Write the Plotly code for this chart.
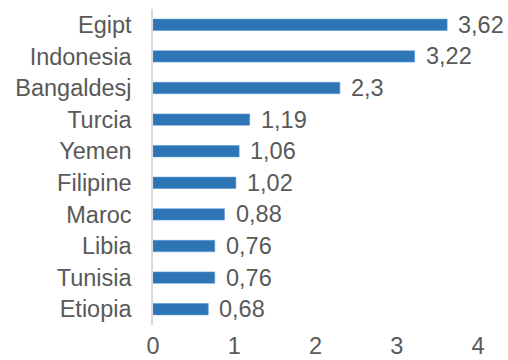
import plotly.graph_objects as go

countries = ["Egipt", "Indonesia", "Bangaldesj", "Turcia", "Yemen",
             "Filipine", "Maroc", "Libia", "Tunisia", "Etiopia"]
values = [3.62, 3.22, 2.3, 1.19, 1.06, 1.02, 0.88, 0.76, 0.76, 0.68]
x_ticks = [0, 1, 2, 3, 4]

labels = [str(v).replace(".", ",") for v in values]

FONT = "Liberation Sans, Arial, sans-serif"
TXT = "#595959"
FS = 23.5

fig = go.Figure(go.Bar(
    x=values, y=countries, orientation="h",
    marker=dict(color="#2E75B6", line=dict(color="#5B9BD5", width=0.6)),
    width=0.36, hoverinfo="skip",
))

for v, c, lab in zip(values, countries, labels):
    fig.add_annotation(x=v, y=c, text=lab, showarrow=False, xanchor="left",
                       xshift=9, font=dict(family=FONT, size=FS, color=TXT))

fig.update_layout(
    width=508, height=360,
    margin=dict(l=153, r=30, t=9, b=35),
    paper_bgcolor="white", plot_bgcolor="white",
    showlegend=False,
    font=dict(family=FONT, size=FS, color=TXT),
    xaxis=dict(range=[0, 4], tickvals=x_ticks, ticktext=[str(t) for t in x_ticks],
               showgrid=False, zeroline=False, showline=False, automargin=False,
               ticks="", ticklabelstandoff=4,
               tickfont=dict(family=FONT, size=FS, color=TXT)),
    yaxis=dict(categoryorder="array", categoryarray=countries, autorange="reversed",
               showgrid=False, zeroline=False, showline=True, linecolor="#D9D9D9",
               linewidth=1.5, ticks="", ticklabelstandoff=15, automargin=False,
               tickfont=dict(family=FONT, size=FS, color=TXT)),
)

fig.write_html("out.html")
